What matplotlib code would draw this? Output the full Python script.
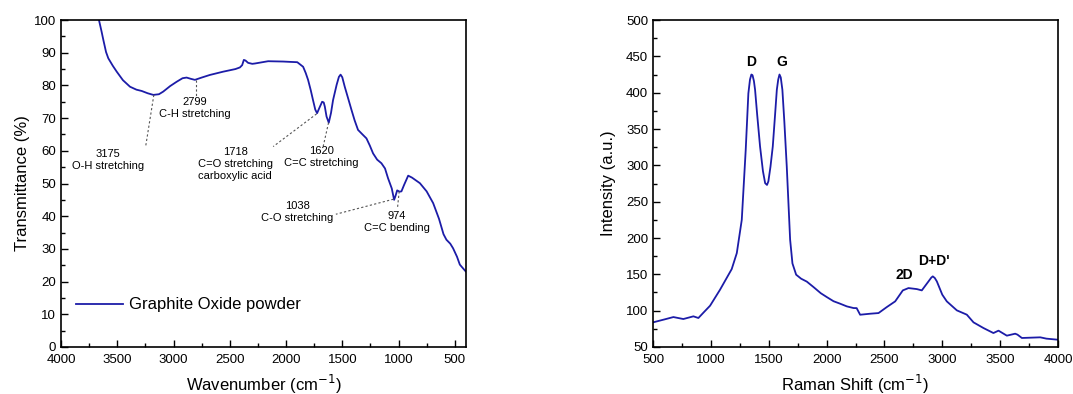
import matplotlib
matplotlib.use("Agg")
import matplotlib.pyplot as plt
from matplotlib.ticker import MultipleLocator, AutoMinorLocator

plt.rcParams['font.family'] = ['Liberation Sans', 'DejaVu Sans']

# === FTIR (Graphite Oxide powder) ===
ftir_wn = [3663, 3640, 3624, 3600, 3580, 3540, 3505, 3450, 3387, 3330, 3283, 3230,
           3180, 3130, 3092, 3030, 2973, 2920, 2884, 2845, 2810, 2750, 2677, 2559,
           2450, 2410, 2390, 2375, 2360, 2337, 2300, 2277, 2159, 2025, 1966, 1900,
           1848, 1825, 1804, 1780, 1760, 1740, 1724, 1700, 1679, 1665, 1655, 1640,
           1620, 1600, 1582, 1550, 1530, 1515, 1500, 1478, 1450, 1418, 1390, 1360,
           1320, 1285, 1255, 1226, 1190, 1152, 1120, 1093, 1060, 1039, 1025, 1012,
           990, 974, 950, 914, 880, 810, 750, 692, 640, 600, 574, 540, 515, 480,
           455, 420, 402]
ftir_t = [100.0, 96.5, 93.9, 90.2, 88.3, 86.0, 84.2, 81.6, 79.6, 78.7, 78.3, 77.6,
          77.1, 77.3, 78.1, 79.8, 81.1, 82.2, 82.4, 82.0, 81.7, 82.4, 83.2, 84.2,
          85.0, 85.5, 86.2, 87.8, 87.6, 86.9, 86.6, 86.7, 87.4, 87.3, 87.2, 87.1,
          85.7, 83.8, 81.7, 78.5, 75.5, 72.6, 71.5, 73.4, 75.0, 74.8, 73.5, 70.5,
          68.6, 71.6, 75.5, 80.2, 82.6, 83.3, 82.5, 79.6, 76.3, 72.5, 69.3, 66.4,
          65.0, 63.8, 61.6, 59.2, 57.3, 56.2, 54.6, 51.6, 48.5, 45.0, 46.4, 47.9,
          47.5, 47.6, 49.6, 52.4, 51.8, 50.1, 47.6, 44.0, 39.2, 34.5, 32.8, 31.6,
          30.2, 27.6, 25.2, 23.8, 23.1]

# etiquetas: texto, posicion del texto, punto del pico, fin de la linea punteada
ftir_labels = ["3175\nO-H stretching", "2799\nC-H stretching",
               "1718\nC=O stretching\ncarboxylic acid", "1620\nC=C stretching",
               "1038\nC-O stretching", "974\nC=C bending"]
label_xy = [(3580, 60.5), (2810, 76.5), (2451, 61.3), (1684, 61.5), (1898, 44.7), (1012, 41.7)]
peak_xy = [(3175, 77.1), (2799, 81.7), (1728, 71.3), (1622, 68.6), (1045, 45.2), (994, 47.6)]
line_end = [(3248, 61.3), (2799, 76.6), (2114, 61.3), (1670, 61.3), (1557, 40.6), (1009, 42.5)]

# === RAMAN ===
raman_x = [500, 600, 676, 762, 849, 892, 940, 993, 1079, 1180, 1224, 1267, 1301,
           1324, 1338, 1350, 1360, 1372, 1382, 1400, 1425, 1450, 1469, 1485, 1497,
           1515, 1535, 1555, 1570, 1582, 1593, 1604, 1618, 1635, 1656, 1685, 1705,
           1737, 1780, 1829, 1887, 1950, 2002, 2060, 2117, 2175, 2233, 2260, 2290,
           2377, 2449, 2521, 2593, 2659, 2708, 2780, 2823, 2881, 2905, 2918, 2935,
           2953, 3000, 3039, 3126, 3212, 3270, 3356, 3442, 3486, 3558, 3630, 3650,
           3688, 3847, 3900, 4000]
raman_i = [83.9, 88.0, 91.2, 88.5, 92.2, 89.9, 98.0, 106.8, 128.8, 157.2, 179.2,
           225, 321, 399, 418, 425, 424, 416, 404, 370, 326, 292, 275.5, 273, 278,
           298, 326, 370, 404, 418, 425, 421, 404, 360, 298, 197.6, 165, 149.5,
           144, 140, 132.5, 124, 118.7, 113, 109.6, 105.9, 103.6, 103.5, 94.4, 95.8,
           96.7, 105, 112.8, 127.9, 131.1, 129.7, 127.9, 140.3, 145.5, 147.2, 145,
           140.3, 122, 112.8, 100.4, 94.5, 83.9, 76.1, 69.2, 72.5, 65.6, 68.3, 67,
           62.4, 63.3, 61.5, 60]
raman_labels = ["D", "G", "2D", "D+D'"]
raman_label_xy = [(1345, 442), (1613, 442), (2673, 149), (2924, 168)]

color = '#1c1ca8'

fig = plt.figure(figsize=(10.73, 3.94), dpi=100)
ax1 = fig.add_axes([0.0569, 0.1193, 0.3774, 0.8299])
ax2 = fig.add_axes([0.6086, 0.1193, 0.3774, 0.8299])

# --- FTIR ---
ax1.plot(ftir_wn, ftir_t, color=color, lw=1.3, label='Graphite Oxide powder')
ax1.set_xlim(4000, 400)
ax1.set_ylim(0, 100)
ax1.xaxis.set_major_locator(MultipleLocator(500))
ax1.yaxis.set_major_locator(MultipleLocator(10))
for lab, (tx, ty), (px, py), (ex, ey) in zip(ftir_labels, label_xy, peak_xy, line_end):
    ax1.plot([px, ex], [py, ey], color='#555555', lw=0.8, ls=(0, (2, 2)))
    ax1.text(tx, ty, lab, ha='center', va='top', fontsize=8, linespacing=1.25)
ax1.set_xlabel("Wavenumber (cm$^{-1}$)", fontsize=12, labelpad=5)
ax1.set_ylabel("Transmittance (%)", fontsize=12, labelpad=3)
ax1.legend(loc='lower left', bbox_to_anchor=(0.0, 0.06), frameon=False, fontsize=12,
           handlelength=2.8, handletextpad=0.4)

# --- Raman ---
ax2.plot(raman_x, raman_i, color=color, lw=1.3)
ax2.set_xlim(500, 4000)
ax2.set_ylim(50, 500)
ax2.xaxis.set_major_locator(MultipleLocator(500))
ax2.yaxis.set_major_locator(MultipleLocator(50))
for lab, (tx, ty) in zip(raman_labels, raman_label_xy):
    ax2.text(tx, ty, lab, ha='center', va='center', fontsize=10, fontweight='bold')
ax2.set_xlabel("Raman Shift (cm$^{-1}$)", fontsize=12, labelpad=5)
ax2.set_ylabel("Intensity (a.u.)", fontsize=12, labelpad=7)

for ax in (ax1, ax2):
    ax.xaxis.set_minor_locator(AutoMinorLocator(2))
    ax.yaxis.set_minor_locator(AutoMinorLocator(2))
    ax.tick_params(which='both', direction='in', labelsize=9.5, top=False, right=False)
    ax.tick_params(axis='x', which='major', pad=5)
    ax.tick_params(which='major', length=5, width=1)
    ax.tick_params(which='minor', length=3, width=1)
    for s in ax.spines.values():
        s.set_linewidth(1.2)

fig.savefig("out.png", dpi=100)
